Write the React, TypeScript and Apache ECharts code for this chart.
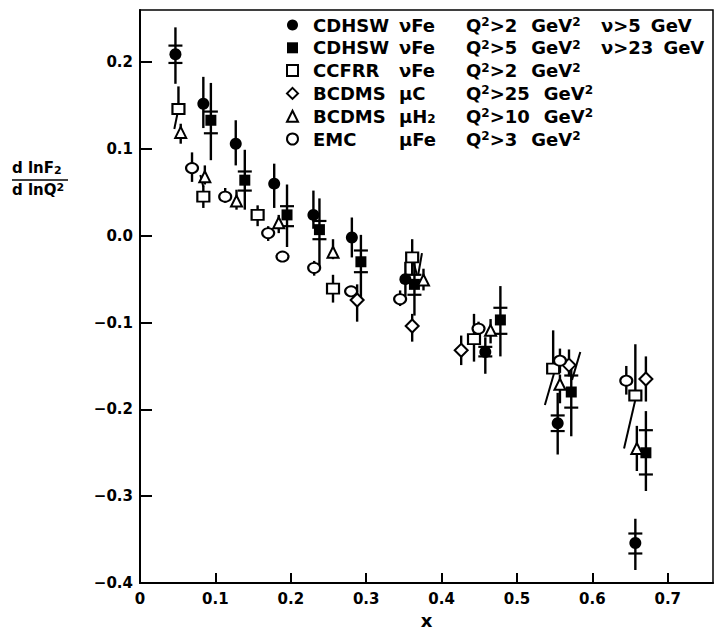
import React, { useEffect, useRef } from "react";
import * as echarts from "echarts";

const FONT = "DejaVu Sans";

// ---- axis ticks ----
const xLabelValues = [0, 0.1, 0.2, 0.3, 0.4, 0.5, 0.6, 0.7];
const xTickValues = [0.1, 0.2, 0.3, 0.4, 0.5, 0.6, 0.7];
const yLabelValues = [-0.4, -0.3, -0.2, -0.1, 0, 0.1, 0.2];

// ---- CDHSW nu Fe, Q2>2, nu>5 GeV (filled circles) ----
const cdhswAX = [0.047, 0.084, 0.127, 0.178, 0.23, 0.281, 0.352, 0.458, 0.554, 0.657];
const cdhswAY = [0.209, 0.152, 0.106, 0.06, 0.024, -0.002, -0.05, -0.134, -0.216, -0.354];
const cdhswALo = [0.175, 0.124, 0.081, 0.032, 0.008, -0.025, -0.07, -0.159, -0.252, -0.385];
const cdhswAHi = [0.24, 0.183, 0.133, 0.083, 0.052, 0.021, -0.03, -0.117, -0.181, -0.326];
const cdhswAStatLo = [0.199, NaN, NaN, NaN, NaN, NaN, NaN, -0.139, -0.225, -0.366];
const cdhswAStatHi = [0.219, NaN, NaN, NaN, NaN, NaN, NaN, -0.128, -0.207, -0.343];

// ---- CDHSW nu Fe, Q2>5, nu>23 GeV (filled squares) ----
const cdhswBX = [0.094, 0.139, 0.195, 0.238, 0.293, 0.364, 0.478, 0.572, 0.671];
const cdhswBY = [0.133, 0.064, 0.024, 0.007, -0.03, -0.056, -0.097, -0.18, -0.25];
const cdhswBLo = [0.087, 0.03, -0.013, -0.038, -0.071, -0.092, -0.139, -0.231, -0.294];
const cdhswBHi = [0.176, 0.099, 0.059, 0.043, 0.001, -0.025, -0.058, -0.147, -0.202];
const cdhswBStatLo = [0.118, 0.052, 0.011, -0.004, -0.042, -0.068, -0.113, -0.198, -0.275];
const cdhswBStatHi = [0.143, 0.074, 0.034, 0.017, -0.017, -0.045, -0.083, -0.161, -0.224];

// ---- CCFRR nu Fe (open squares) ----
const ccfrrX = [0.051, 0.084, 0.156, 0.256, 0.361, 0.443, 0.548, 0.657];
const ccfrrY = [0.146, 0.045, 0.024, -0.061, -0.025, -0.119, -0.153, -0.184];
const ccfrrLo = [0.14, 0.032, 0.011, -0.077, -0.045, -0.145, -0.158, -0.19];
const ccfrrHi = [0.172, 0.058, 0.035, -0.045, -0.004, -0.09, -0.109, -0.125];
// slanted strokes next to CCFRR points
const slantX1 = [0.0495, 0.084, 0.374, 0.363, 0.549, 0.657, 0.584];
const slantY1 = [0.14, 0.056, -0.02, -0.031, -0.159, -0.189, -0.134];
const slantX2 = [0.0455, 0.08, 0.369, 0.367, 0.537, 0.642, 0.573];
const slantY2 = [0.123, 0.07, -0.045, -0.044, -0.195, -0.245, -0.166];

// ---- BCDMS mu C (open diamonds) ----
const bcdmsCX = [0.288, 0.361, 0.426, 0.569, 0.671];
const bcdmsCY = [-0.074, -0.104, -0.132, -0.149, -0.165];
const bcdmsCLo = [-0.099, -0.122, -0.149, -0.162, -0.191];
const bcdmsCHi = [-0.056, -0.09, -0.115, -0.131, -0.139];

// ---- BCDMS mu H2 (open triangles) ----
const bcdmsHX = [0.054, 0.086, 0.128, 0.184, 0.256, 0.376, 0.465, 0.557, 0.659];
const bcdmsHY = [0.119, 0.068, 0.04, 0.015, -0.019, -0.051, -0.109, -0.171, -0.245];
const bcdmsHLo = [0.106, 0.059, 0.03, 0.003, -0.027, -0.063, -0.124, -0.193, -0.271];
const bcdmsHHi = [0.129, 0.081, 0.053, 0.024, -0.004, -0.038, -0.096, -0.16, -0.219];

// ---- EMC mu Fe (open circles) ----
const emcX = [0.069, 0.113, 0.17, 0.189, 0.231, 0.28, 0.345, 0.449, 0.557, 0.645];
const emcY = [0.078, 0.045, 0.003, -0.024, -0.037, -0.064, -0.073, -0.107, -0.144, -0.167];
const emcLo = [0.062, 0.038, -0.006, -0.024, -0.046, -0.07, -0.081, -0.118, -0.158, -0.183];
const emcHi = [0.096, 0.055, 0.011, -0.024, -0.029, -0.058, -0.063, -0.099, -0.13, -0.15];

// ---- legend text ----
const legendNames = [
  "CDHSW νFe Q²>2 GeV² ν>5 GeV",
  "CDHSW νFe Q²>5 GeV² ν>23 GeV",
  "CCFRR νFe Q²>2 GeV²",
  "BCDMS μC Q²>25 GeV²",
  "BCDMS μH₂ Q²>10 GeV²",
  "EMC μFe Q²>3 GeV²",
];
const legendExperiments = ["CDHSW", "CDHSW", "CCFRR", "BCDMS", "BCDMS", "EMC"];
const legendBeams = ["νFe", "νFe", "νFe", "μC", "μH", "μFe"];
const legendBeamSub = ["", "", "", "", "2", ""];
const legendQ2Cuts = [">2", ">5", ">2", ">25", ">10", ">3"];
const legendNuCuts = ["ν>5", "ν>23", "", "", "", ""];

function minus(v: number, digits: number) {
  const s = Math.abs(v).toFixed(digits);
  return v < -1e-9 ? "\u2212" + s : s;
}

function errorSeries(x: number[], lo: number[], hi: number[], sLo?: number[], sHi?: number[]) {
  return {
    type: "custom",
    silent: true,
    z: 2,
    encode: { x: 0, y: [1, 2] },
    data: x.map((xv, i) => [xv, lo[i], hi[i], sLo ? sLo[i] : NaN, sHi ? sHi[i] : NaN]),
    renderItem: (params: any, api: any) => {
      const xv = api.value(0);
      const p1 = api.coord([xv, api.value(1)]);
      const p2 = api.coord([xv, api.value(2)]);
      const children: any[] = [
        {
          type: "line",
          shape: { x1: p1[0], y1: p1[1], x2: p2[0], y2: p2[1] },
          style: { stroke: "#000", lineWidth: 2.4 },
        },
      ];
      [api.value(3), api.value(4)].forEach((t: number) => {
        if (isFinite(t)) {
          const p = api.coord([xv, t]);
          children.push({
            type: "line",
            shape: { x1: p[0] - 7, y1: p[1], x2: p[0] + 7, y2: p[1] },
            style: { stroke: "#000", lineWidth: 2.2 },
          });
        }
      });
      return { type: "group", children };
    },
  };
}

function markerSeries(name: string, x: number[], y: number[], symbol: string, size: any, filled: boolean) {
  return {
    type: "scatter",
    name,
    z: 3,
    symbol,
    symbolSize: size,
    data: x.map((xv, i) => [xv, y[i]]),
    itemStyle: {
      color: filled ? "#000" : "#fff",
      borderColor: "#000",
      borderWidth: filled ? 0 : 2,
      opacity: 1,
    },
  };
}

const slantSeries = {
  type: "custom",
  silent: true,
  z: 2,
  encode: { x: [0, 2], y: [1, 3] },
  data: slantX1.map((xv, i) => [xv, slantY1[i], slantX2[i], slantY2[i]]),
  renderItem: (params: any, api: any) => {
    const a = api.coord([api.value(0), api.value(1)]);
    const b = api.coord([api.value(2), api.value(3)]);
    return {
      type: "line",
      shape: { x1: a[0], y1: a[1], x2: b[0], y2: b[1] },
      style: { stroke: "#000", lineWidth: 2 },
    };
  },
};

const richBase = { fontFamily: FONT, fontWeight: "bold", color: "#000" };
const MAIN = `bold 18px ${FONT}`;
const SMALL = `bold 12px ${FONT}`;

export default function App() {
  const ref = useRef<HTMLDivElement>(null);
  useEffect(() => {
    const chart = echarts.init(ref.current!, null, { renderer: "svg" });

    const measure = (s: string, font: string) => {
      const f: any = (echarts.format as any).getTextRect;
      return f ? f(s, font).width : s.length * 11;
    };

    const rich: any = {
      g: { ...richBase, fontSize: 18, lineHeight: 18, width: 10 },
      e: { ...richBase, fontSize: 18, lineHeight: 18, width: 86 },
      m: { ...richBase, fontSize: 18, lineHeight: 18 },
      bs: { ...richBase, fontSize: 12, lineHeight: 10, verticalAlign: "bottom" },
      s: { ...richBase, fontSize: 12, lineHeight: 10, verticalAlign: "top" },
      sp: { ...richBase, fontSize: 18, lineHeight: 18, width: 14 },
      sn: { ...richBase, fontSize: 18, lineHeight: 18, width: 10 },
    };
    legendBeams.forEach((b, i) => {
      const w = measure(b, MAIN) + (legendBeamSub[i] ? measure(legendBeamSub[i], SMALL) : 0);
      rich["p" + i] = { ...richBase, fontSize: 18, lineHeight: 18, width: Math.max(2, 67 - w) };
      const qw =
        measure("Q", MAIN) + measure("2", SMALL) * 2 + measure(legendQ2Cuts[i], MAIN) + 14 + measure("GeV", MAIN);
      rich["h" + i] = { ...richBase, fontSize: 18, lineHeight: 18, width: Math.max(4, 135 - qw) };
    });

    const formatter = (name: string) => {
      const i = legendNames.indexOf(name);
      let t = `{g| }{e|${legendExperiments[i]}}{m|${legendBeams[i]}}`;
      if (legendBeamSub[i]) t += `{bs|${legendBeamSub[i]}}`;
      t += `{p${i}| }{m|Q}{s|2}{m|${legendQ2Cuts[i]}}{sp| }{m|GeV}{s|2}`;
      if (legendNuCuts[i]) t += `{h${i}| }{m|${legendNuCuts[i]}}{sn| }{m|GeV}`;
      return t;
    };

    const option: any = {
      animation: false,
      backgroundColor: "#fff",
      textStyle: { fontFamily: FONT },
      grid: {
        left: 140,
        right: 2,
        top: 10,
        bottom: 46,
        show: true,
        borderColor: "#000",
        borderWidth: 1.5,
        backgroundColor: "transparent",
      },
      xAxis: {
        type: "value",
        min: 0,
        max: 0.76,
        interval: 0.1,
        name: "x",
        nameLocation: "middle",
        nameGap: 28,
        nameTextStyle: { fontFamily: FONT, fontSize: 18, fontWeight: "bold", color: "#000" },
        axisLine: { show: true, onZero: false, lineStyle: { color: "#000", width: 2 } },
        axisTick: {
          show: true,
          inside: true,
          length: 10,
          customValues: xTickValues,
          lineStyle: { color: "#000", width: 2 },
        },
        axisLabel: {
          customValues: xLabelValues,
          margin: 8,
          fontFamily: FONT,
          fontSize: 15,
          fontWeight: "bold",
          color: "#000",
          formatter: (v: number) => {
            if (Math.abs(v * 10 - Math.round(v * 10)) > 1e-6) return "";
            return Math.abs(v) < 1e-9 ? "0" : minus(v, 1);
          },
        },
        splitLine: { show: false },
      },
      yAxis: {
        type: "value",
        min: -0.4,
        max: 0.26,
        interval: 0.1,
        axisLine: { show: true, onZero: false, lineStyle: { color: "#000", width: 2 } },
        axisTick: {
          show: true,
          inside: true,
          length: 12,
          customValues: yLabelValues,
          lineStyle: { color: "#000", width: 2 },
        },
        axisLabel: {
          customValues: yLabelValues,
          margin: 7,
          fontFamily: FONT,
          fontSize: 15,
          fontWeight: "bold",
          color: "#000",
          formatter: (v: number) => {
            if (Math.abs(v * 10 - Math.round(v * 10)) > 1e-6) return "";
            return minus(v, 1);
          },
        },
        splitLine: { show: false },
      },
      legend: {
        orient: "vertical",
        left: 286,
        top: 16,
        padding: 0,
        itemGap: 4.8,
        itemWidth: 11,
        itemHeight: 11,
        selectedMode: false,
        data: legendNames,
        formatter,
        textStyle: { ...richBase, fontSize: 18, lineHeight: 18, rich },
      },
      graphic: [
        {
          type: "text",
          left: 12,
          top: 160,
          style: {
            text: "{a|d lnF}{b|2}",
            rich: {
              a: { ...richBase, fontSize: 15, lineHeight: 16 },
              b: { ...richBase, fontSize: 11, lineHeight: 8, verticalAlign: "bottom" },
            },
          },
        },
        {
          type: "line",
          shape: { x1: 12, y1: 180, x2: 68, y2: 180 },
          style: { stroke: "#000", lineWidth: 1.6 },
        },
        {
          type: "text",
          left: 12,
          top: 182,
          style: {
            text: "{a|d lnQ}{b|2}",
            rich: {
              a: { ...richBase, fontSize: 15, lineHeight: 16 },
              b: { ...richBase, fontSize: 11, lineHeight: 8, verticalAlign: "top" },
            },
          },
        },
      ],
      series: [
        errorSeries(cdhswAX, cdhswALo, cdhswAHi, cdhswAStatLo, cdhswAStatHi),
        errorSeries(cdhswBX, cdhswBLo, cdhswBHi, cdhswBStatLo, cdhswBStatHi),
        errorSeries(ccfrrX, ccfrrLo, ccfrrHi),
        errorSeries(bcdmsCX, bcdmsCLo, bcdmsCHi),
        errorSeries(bcdmsHX, bcdmsHLo, bcdmsHHi),
        errorSeries(emcX, emcLo, emcHi),
        slantSeries,
        markerSeries(legendNames[0], cdhswAX, cdhswAY, "circle", 12, true),
        markerSeries(legendNames[1], cdhswBX, cdhswBY, "rect", 11, true),
        markerSeries(legendNames[2], ccfrrX, ccfrrY, "rect", [12, 10], false),
        markerSeries(legendNames[3], bcdmsCX, bcdmsCY, "diamond", [13, 13], false),
        markerSeries(legendNames[4], bcdmsHX, bcdmsHY, "triangle", [11, 11], false),
        markerSeries(legendNames[5], emcX, emcY, "circle", [12, 10], false),
      ],
    };
    chart.setOption(option);
    return () => chart.dispose();
  }, []);
  return (
    <div
      ref={ref}
      style={{ position: "fixed", left: 0, top: 0, width: 715, height: 634, background: "#fff" }}
    />
  );
}
